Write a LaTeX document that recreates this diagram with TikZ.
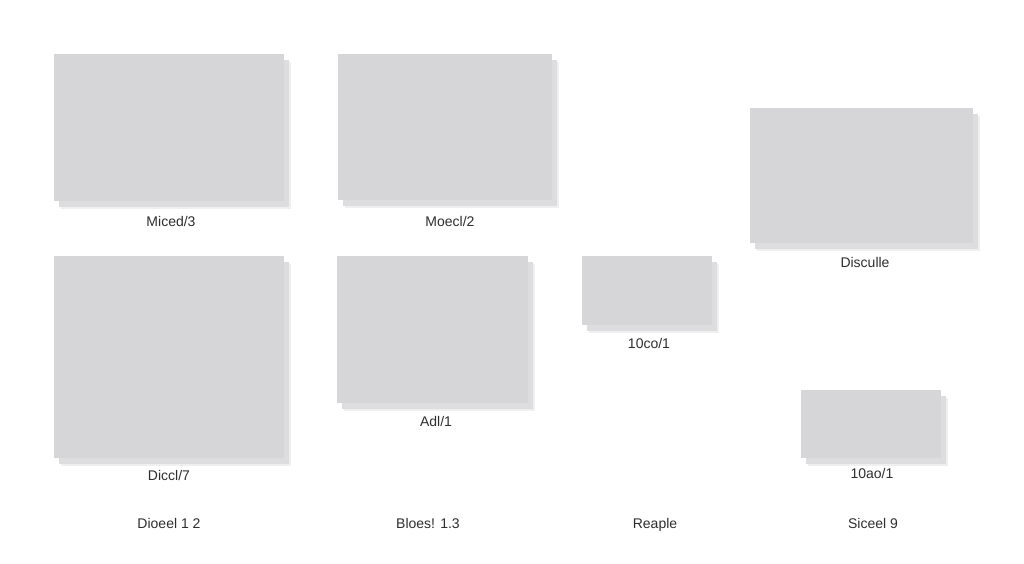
\documentclass[tikz,border=0pt]{standalone}
\usepackage{fontspec}
\setmainfont{Liberation Sans}
\usetikzlibrary{shadows}
\definecolor{boxgray}{HTML}{D6D5D8}
\definecolor{shadegray}{HTML}{DDDCDF}
\definecolor{txtgray}{HTML}{2E2E2E}
\tikzset{
  panel/.style={fill=boxgray, draw=none, inner sep=0pt,
    drop shadow={shadow xshift=7pt, shadow yshift=-7.5pt, fill=shadegray, opacity=0.45},
    drop shadow={shadow xshift=5pt, shadow yshift=-5.5pt, fill=shadegray, opacity=1}},
  captext/.style={text=txtgray, font=\fontsize{14}{16}\selectfont, inner sep=0pt,
    text height=10pt, text depth=3pt, anchor=center}
}
\begin{document}
\begin{tikzpicture}[x=1pt,y=-1pt]
\useasboundingbox[fill=white] (0,0) rectangle (1024,563);
% panels
\node[panel, minimum width=230pt, minimum height=147pt] (b1) at (169,127.5) {};
\node[panel, minimum width=214pt, minimum height=146pt] (b2) at (445,127) {};
\node[panel, minimum width=223pt, minimum height=135pt] (b3) at (861.5,175.5) {};
\node[panel, minimum width=230pt, minimum height=202pt] (b4) at (169,357) {};
\node[panel, minimum width=191pt, minimum height=147pt] (b5) at (432.5,329.5) {};
\node[panel, minimum width=130pt, minimum height=69pt] (b6) at (647,290.5) {};
\node[panel, minimum width=140pt, minimum height=68pt] (b7) at (871,424) {};
% captions
\node[captext] (l1) at (171,222.5) {Miced/3};
\node[captext] (l2) at (450,222.5) {Moecl/2};
\node[captext] (l3) at (865,263.5) {Disculle};
\node[captext] (l4) at (169,476.5) {Diccl/7};
\node[captext] (l5) at (436,422.5) {Adl/1};
\node[captext] (l6) at (649,344.5) {10co/1};
\node[captext] (l7) at (872,474.5) {10ao/1};
% bottom row
\node[captext] (f1) at (169,524.5) {Dioeel 1 2};
\node[captext] (f2) at (428,524.5) {Bloes! 1.3};
\node[captext] (f3) at (655,524.5) {Reaple};
\node[captext] (f4) at (873,524.5) {Siceel 9};
\end{tikzpicture}
\end{document}
